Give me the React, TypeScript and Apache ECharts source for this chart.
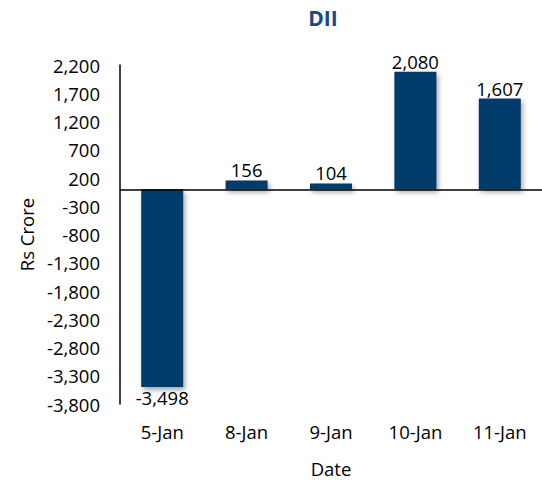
import React, { useEffect, useRef } from "react";
import * as echarts from "echarts";

const categories = ["5-Jan", "8-Jan", "9-Jan", "10-Jan", "11-Jan"];
const values = [-3498, 156, 104, 2080, 1607];
const yMin = -3800;
const yMax = 2200;
const yInterval = 500;

const FONT = "Open Sans";
const FS = 18.5;
const fmt = (v: number) => v.toLocaleString("en-US");

export default function App() {
  const ref = useRef<HTMLDivElement>(null);
  useEffect(() => {
    if (!ref.current) return;
    const chart = echarts.init(ref.current, undefined, { renderer: "svg" });
    chart.setOption({
      animation: false,
      backgroundColor: "#ffffff",
      title: {
        text: "DII",
        left: 318,
        top: 2,
        textAlign: "center",
        textStyle: { fontFamily: FONT, fontWeight: "bold", fontSize: 21, color: "#1A4A7E" },
      },
      grid: { left: 120, top: 65, width: 424, height: 345, containLabel: false },
      xAxis: {
        type: "category",
        data: categories,
        position: "bottom",
        axisLine: { show: false, onZero: false },
        axisTick: { show: false },
        axisLabel: { margin: 18, fontFamily: FONT, fontSize: FS, color: "#000" },
        name: "Date",
        nameLocation: "middle",
        nameGap: 55,
        nameTextStyle: { fontFamily: FONT, fontSize: FS, color: "#000" },
      },
      yAxis: {
        type: "value",
        min: yMin,
        max: yMax,
        interval: yInterval,
        axisLine: { show: true, lineStyle: { color: "#000", width: 1.5 } },
        axisTick: { show: false },
        splitLine: { show: false },
        axisLabel: {
          margin: 20,
          fontFamily: FONT,
          fontSize: FS,
          color: "#000",
          formatter: (v: number) => fmt(v),
        },
        name: "Rs Crore",
        nameLocation: "middle",
        nameGap: 84,
        nameTextStyle: { fontFamily: FONT, fontSize: FS, color: "#000" },
      },
      series: [
        {
          type: "bar",
          data: values.map((v) => ({
            value: v,
            label: { position: v < 0 ? "bottom" : "top" },
          })),
          barWidth: 42,
          itemStyle: {
            color: "#063A6A",
            shadowColor: "rgba(0,0,0,0.35)",
            shadowBlur: 5,
            shadowOffsetX: 2,
            shadowOffsetY: 3,
          },
          label: {
            show: true,
            distance: 1,
            fontFamily: FONT,
            fontSize: FS,
            color: "#000",
            formatter: (p: any) => fmt(p.value),
          },
          markLine: {
            silent: true,
            symbol: "none",
            label: { show: false },
            lineStyle: { color: "#000", width: 1.5, type: "solid" },
            data: [{ yAxis: 0 }],
          },
        },
      ],
    });
    return () => chart.dispose();
  }, []);
  return (
    <div
      ref={ref}
      style={{ position: "fixed", left: 0, top: 0, width: 542, height: 483 }}
    />
  );
}
